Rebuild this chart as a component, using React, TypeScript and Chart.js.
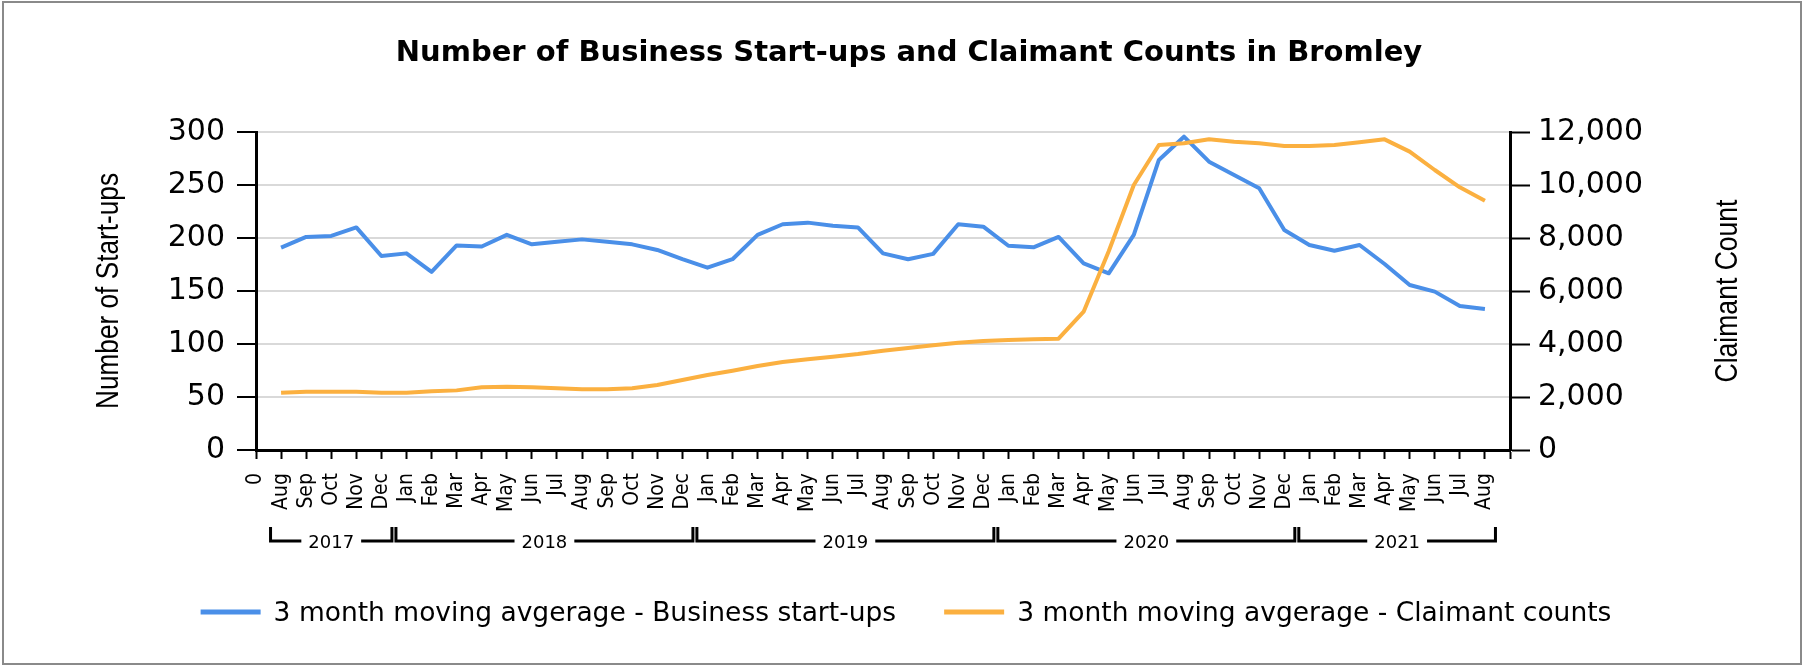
import React, { useEffect, useRef } from "react";
import { Chart, registerables } from "chart.js";

Chart.register(...registerables);

const chartTitle = "Number of Business Start-ups and Claimant Counts in Bromley";
const leftAxisTitle = "Number of Start-ups";
const rightAxisTitle = "Claimant Count";
const seriesNames = [
  "3 month moving avgerage - Business start-ups",
  "3 month moving avgerage - Claimant counts",
];
const seriesColors = ["#4a8fe8", "#fbb040"];

const monthLabels = [
  "0",
  "Aug", "Sep", "Oct", "Nov", "Dec",
  "Jan", "Feb", "Mar", "Apr", "May", "Jun", "Jul", "Aug", "Sep", "Oct", "Nov", "Dec",
  "Jan", "Feb", "Mar", "Apr", "May", "Jun", "Jul", "Aug", "Sep", "Oct", "Nov", "Dec",
  "Jan", "Feb", "Mar", "Apr", "May", "Jun", "Jul", "Aug", "Sep", "Oct", "Nov", "Dec",
  "Jan", "Feb", "Mar", "Apr", "May", "Jun", "Jul", "Aug",
  "",
];
const yearNames = ["2017", "2018", "2019", "2020", "2021"];
const yearMonthCounts = [5, 12, 12, 12, 8];

const startups = [
  null,
  191, 201, 202, 210, 183,
  185.5, 168, 193, 192, 203, 194, 196.5, 198.7, 196.5, 194, 188.7, 180,
  172, 180, 203, 213, 214.5, 211.6, 210, 185.5, 180, 185, 213, 210.7,
  192.7, 191.2, 201, 176, 166.7, 203, 273.6, 295.6, 272, 259.4, 246.9, 207.5,
  193.4, 188, 193.4, 175.5, 155.7, 149.4, 135.8, 133,
  null,
];
const claimants = [
  null,
  2162, 2200, 2200, 2200, 2160,
  2160, 2220, 2250, 2365, 2390, 2365, 2327, 2290, 2290, 2327, 2453, 2641,
  2830, 2994, 3170, 3320, 3421, 3522, 3623, 3748, 3849, 3950, 4050, 4113,
  4150, 4176, 4200, 5220, 7500, 10000, 11509, 11572, 11723, 11635, 11572, 11472,
  11472, 11509, 11610, 11723, 11258, 10566, 9912, 9409,
  null,
];

const leftMax = 300;
const leftStep = 50;
const rightMax = 12000;
const rightStep = 2000;

const NARROW = "'Liberation Sans Narrow', 'DejaVu Sans Condensed', 'Liberation Sans', sans-serif";
const SANS = "'Liberation Sans', Arial, sans-serif";
const WIDE = "'DejaVu Sans', Verdana, sans-serif";

const decorPlugin = {
  id: "decor",
  afterDraw(chart: any) {
    const ctx: CanvasRenderingContext2D = chart.ctx;
    const area = chart.chartArea;
    const xs = chart.scales.x;
    ctx.save();

    // outer border
    ctx.strokeStyle = "#8a8a8a";
    ctx.lineWidth = 2;
    ctx.strokeRect(3, 2, chart.width - 5, chart.height - 3);

    // title
    ctx.fillStyle = "#000";
    ctx.font = "bold 29px " + WIDE;
    ctx.textAlign = "center";
    ctx.textBaseline = "alphabetic";
    ctx.fillText(chartTitle, 909, 61);

    // axis titles (condensed)
    const midY = (area.top + area.bottom) / 2;
    ctx.font = "31px " + SANS;
    ctx.textBaseline = "middle";
    [
      [109, leftAxisTitle, 236],
      [1728, rightAxisTitle, 183],
    ].forEach(([x, t, len]) => {
      const w = ctx.measureText(t as string).width;
      ctx.save();
      ctx.translate(x as number, midY);
      ctx.rotate(-Math.PI / 2);
      ctx.scale((len as number) / w, 1);
      ctx.fillText(t as string, 0, 0);
      ctx.restore();
    });

    // year brackets
    const s = xs.getPixelForValue(1) - xs.getPixelForValue(0);
    ctx.font = "18px " + WIDE;
    ctx.lineWidth = 3;
    ctx.strokeStyle = "#000";
    let start = 1;
    yearNames.forEach((yn, gi) => {
      const end = start + yearMonthCounts[gi] - 1;
      const x0 = xs.getPixelForValue(start) - s / 2 + 2;
      const x1 = xs.getPixelForValue(end) + s / 2 - 2;
      const cx = (x0 + x1) / 2;
      const tw = ctx.measureText(yn).width;
      const tl = cx - tw / 2 - 7;
      const tr = cx + tw / 2 + 7;
      ctx.beginPath();
      ctx.moveTo(x0, 527);
      ctx.lineTo(x0, 541);
      ctx.lineTo(tl, 541);
      ctx.moveTo(tr, 541);
      ctx.lineTo(x1, 541);
      ctx.lineTo(x1, 527);
      ctx.stroke();
      ctx.textAlign = "center";
      ctx.textBaseline = "alphabetic";
      ctx.fillText(yn, cx, 548);
      start = end + 1;
    });

    // legend
    ctx.font = "26.5px " + WIDE;
    const lineW = 60;
    const gapLT = 13;
    const gapItems = 48;
    const widths = seriesNames.map((n) => ctx.measureText(n).width);
    const total = widths.reduce((a, w) => a + w + lineW + gapLT, 0) + gapItems * (seriesNames.length - 1);
    let lx = 906 - total / 2;
    const ly = 612;
    ctx.textAlign = "left";
    ctx.textBaseline = "alphabetic";
    seriesNames.forEach((n, i) => {
      ctx.fillStyle = seriesColors[i];
      ctx.fillRect(lx, ly - 2.5, lineW, 5);
      ctx.fillStyle = "#000";
      ctx.fillText(n, lx + lineW + gapLT, 621);
      lx += lineW + gapLT + widths[i] + gapItems;
    });

    ctx.restore();
  },
};

export default function App() {
  const ref = useRef<HTMLCanvasElement | null>(null);

  useEffect(() => {
    document.body.style.margin = "0";
    document.body.style.overflow = "hidden";
    if (!ref.current) return;
    const chart = new Chart(ref.current, {
      type: "line",
      data: {
        labels: monthLabels,
        datasets: [
          {
            label: seriesNames[0],
            data: startups,
            borderColor: seriesColors[0],
            backgroundColor: seriesColors[0],
            borderWidth: 4,
            pointRadius: 0,
            tension: 0,
            fill: false,
            yAxisID: "y",
            order: 1,
            borderJoinStyle: "round",
          },
          {
            label: seriesNames[1],
            data: claimants,
            borderColor: seriesColors[1],
            backgroundColor: seriesColors[1],
            borderWidth: 4,
            pointRadius: 0,
            tension: 0,
            fill: false,
            yAxisID: "y1",
            order: 0,
            borderJoinStyle: "round",
          },
        ],
      },
      options: {
        animation: false,
        responsive: false,
        devicePixelRatio: 1,
        layout: { padding: { top: 132, left: 0, right: 0, bottom: 0 } },
        plugins: {
          legend: { display: false },
          title: { display: false },
          tooltip: { enabled: false },
        },
        scales: {
          x: {
            type: "category",
            offset: false,
            grid: {
              drawOnChartArea: false,
              drawTicks: true,
              tickLength: 9,
              tickColor: "#000",
              tickWidth: 2,
            },
            border: { display: true, color: "#000", width: 3 },
            ticks: {
              autoSkip: false,
              maxRotation: 90,
              minRotation: 90,
              padding: 14,
              color: "#000",
              font: { family: NARROW, size: 21 },
            },
            afterFit(s: any) {
              s.height = 215;
            },
          },
          y: {
            position: "left",
            min: 0,
            max: leftMax,
            ticks: {
              stepSize: leftStep,
              padding: 12,
              color: "#000",
              font: { family: WIDE, size: 30 },
            },
            grid: {
              color: "#d9d9d9",
              lineWidth: 2,
              tickColor: "#000",
              tickLength: 19,
              tickWidth: 2,
            },
            border: { display: true, color: "#000", width: 3 },
            afterFit(s: any) {
              s.width = 256;
            },
          },
          y1: {
            position: "right",
            min: 0,
            max: rightMax,
            ticks: {
              stepSize: rightStep,
              padding: 8,
              color: "#000",
              font: { family: WIDE, size: 30 },
              callback: (v: any) => Number(v).toLocaleString("en-US"),
            },
            grid: {
              drawOnChartArea: false,
              tickColor: "#000",
              tickLength: 20,
              tickWidth: 2,
            },
            border: { display: true, color: "#000", width: 3 },
            afterFit(s: any) {
              s.width = 293;
            },
          },
        },
      },
      plugins: [decorPlugin],
    } as any);
    return () => chart.destroy();
  }, []);

  return (
    <div style={{ width: 1803, height: 665, background: "#fff" }}>
      <canvas ref={ref} width={1803} height={665} style={{ display: "block" }} />
    </div>
  );
}
